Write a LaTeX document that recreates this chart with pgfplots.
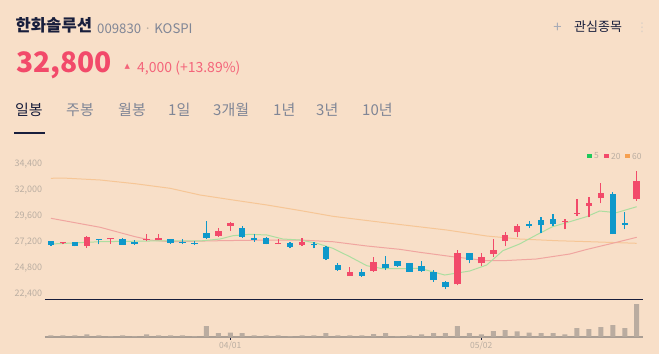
\documentclass[border=0pt]{standalone}
\usepackage{pgfplots}
\pgfplotsset{compat=1.18}
\usepackage{pgfplotstable}
\usepackage{fontspec}
\setmainfont{Noto Sans CJK KR}
\newfontfamily\dejavu{DejaVu Sans}
\definecolor{bg}{RGB}{248,223,200}
\definecolor{upc}{RGB}{242,74,106}
\definecolor{uptxt}{RGB}{244,100,122}
\definecolor{dnc}{RGB}{14,152,202}
\definecolor{navy}{RGB}{24,30,60}
\definecolor{txtgray}{RGB}{128,134,150}
\definecolor{lblgray}{RGB}{186,174,162}
\definecolor{ma5}{RGB}{172,222,160}
\definecolor{ma20}{RGB}{240,165,160}
\definecolor{ma60}{RGB}{246,198,150}
\definecolor{volc}{RGB}{186,172,160}
\definecolor{basegray}{RGB}{170,158,148}
\definecolor{lg5}{RGB}{30,200,90}
\definecolor{lg60}{RGB}{246,160,80}

\pgfplotstableread{
i o h l c
1 27100 27230 27020 27150
3 26860 27810 26700 27720
5 27480 27580 27070 27570
8 27410 27990 27290 27500
9 27440 27990 27440 27595
14 27810 28490 27720 28240
15 28730 29040 28270 28970
19 27030 27500 27020 27070
21 26950 27570 26890 27255
25 24100 24950 24100 24440
27 24540 25880 24470 25420
34 23340 26500 23250 26220
36 25270 26190 25050 25850
37 26120 27530 25880 26460
38 27350 28170 26830 27900
39 28150 28880 27660 28700
43 29100 29340 28400 29190
44 29830 31210 29650 29920
45 30540 31390 29500 30840
46 31270 32630 30790 31760
49 31150 33780 31030 32800
}\upt

\pgfplotstableread{
i o h l c
0 27320 27350 26900 26950
2 27230 27250 26820 26860
4 27480 27500 27020 27380
6 27530 27600 26980 26980
7 27255 27410 26980 27070
10 27500 27500 27070 27160
11 27230 27530 27040 27140
12 27160 27320 26950 27070
13 28080 29160 27500 27595
16 28510 28700 27620 27710
17 27620 27960 27255 27410
18 27595 27650 27020 27070
20 27160 27250 26650 26800
22 27020 27255 26650 26920
23 26770 26860 25570 25660
24 25140 25270 24590 24650
26 24480 24700 24050 24120
28 25210 25950 24650 24810
29 25480 25480 24950 25030
30 25300 25300 24500 24500
31 25050 25480 24470 24560
32 24440 24630 23550 23730
33 23550 23670 22890 23060
35 26220 26250 25270 25540
40 28850 29190 28510 28700
41 29220 29500 28080 28760
42 29310 29770 28700 28910
47 31670 31800 27960 27960
48 29000 29990 28400 28800
}\dnt

\pgfplotstableread{
x p
0 33085
1 33110
4.12 32929
7.04 32588
9.97 32165
12.47 31549
15.23 31090
18.07 30630
20.83 30124
23.58 29591
26.42 29204
29.17 28837
33.1 28331
36.45 27779
39.2 27503
42.3 27347
45.05 27255
49 27108
}\masixty

\pgfplotstableread{
x p
0 29407
4.12 28579
7.04 27715
8.29 27411
9.97 27255
14.14 27347
18.07 27411
20.83 27411
23.58 27255
26.42 26860
29.17 26556
30.85 26281
33.6 25876
36.45 25508
37.8 25508
40.6 25664
43.4 26124
44.8 26538
46.9 27090
49 27660
}\matwenty

\pgfplotstableread{
x p
0 27044
4.12 27255
8.29 27320
12.47 27320
14.14 27503
15.23 27807
16.65 27936
18.07 27871
19.4 27503
20.83 27411
22.25 27108
23.58 26648
25 25876
26.42 25048
27.76 24773
29.17 24773
30.85 24809
32.94 24193
35.03 24561
36.45 25113
37.8 26428
39.2 27044
40.6 27871
41.96 28634
43.4 29094
44.8 29554
45.9 30078
47.3 29922
49 30473
}\mafive

\pgfplotstableread{
i v
0 4
1 4
2 4
3 7
4 4
5 2
6 4
7 2
8 7
9 4
10 4
11 4
12 2
13 32
14 11
15 12
16 11
17 4
18 4
19 4
20 2
21 4
22 4
23 11
24 4
25 4
26 4
27 8
28 11
29 2
30 4
31 7
32 11
33 11
34 32
35 11
36 7
37 17
38 20
39 16
40 12
41 11
42 11
43 7
44 26
45 23
46 29
47 35
48 26
49 98
}\vol

\begin{document}
\begin{tikzpicture}
\useasboundingbox (0pt,0pt) rectangle (659pt,354pt);
\fill[bg] (0pt,0pt) rectangle (659pt,354pt);

% header
\node[anchor=base west, inner sep=0pt, text=navy, font=\fontsize{16.6}{19}\selectfont\bfseries] at (15.5pt,322pt) {한화솔루션};
\node[anchor=base west, inner sep=0pt, text=txtgray, font=\fontsize{13.2}{16}\selectfont] at (97pt,320pt) {009830 {\color{lblgray}·} KOSPI};
\node[anchor=base west, inner sep=0pt, text=upc, font=\fontsize{28.2}{32}\selectfont\bfseries] at (16pt,281.3pt) {32,800};
\node[anchor=base west, inner sep=0pt, text=uptxt, font=\dejavu\fontsize{7}{8}\selectfont] at (124.5pt,285.7pt) {▲};
\node[anchor=base west, inner sep=0pt, text=uptxt, font=\fontsize{14}{16}\selectfont] at (137pt,281.7pt) {4,000 (+13.89\%)};

% tabs
\node[anchor=base west, inner sep=0pt, text=navy, font=\fontsize{15}{18}\selectfont] at (15pt,238.5pt) {일봉};
\foreach \xx/\tt in {66/주봉,118/월봉,168/1일,213/3개월,273/1년,316/3년,362/10년}
  \node[anchor=base west, inner sep=0pt, text=txtgray, font=\fontsize{15}{18}\selectfont] at (\xx pt,238.5pt) {\tt};
\draw[navy, line width=1.6pt] (14pt,221pt) -- (45pt,221pt);

% top right
\node[anchor=center, inner sep=0pt, text=txtgray!70, font=\fontsize{15}{18}\selectfont] at (557.5pt,326pt) {+};
\node[anchor=base west, inner sep=0pt, text=navy, font=\fontsize{13}{15}\selectfont] at (574pt,322pt) {관심종목};
\node[anchor=center, inner sep=0pt, text=lblgray!60, font=\dejavu\fontsize{12}{14}\selectfont] at (642pt,326pt) {⋮};

% legend
\fill[lg5] (587pt,195.7pt) rectangle (592pt,200.3pt);
\node[anchor=west, inner sep=0pt, text=lblgray, font=\fontsize{8.5}{10}\selectfont] at (594pt,198pt) {5};
\fill[upc] (604pt,195.7pt) rectangle (609pt,200.3pt);
\node[anchor=west, inner sep=0pt, text=lblgray, font=\fontsize{8.5}{10}\selectfont] at (611pt,198pt) {20};
\fill[lg60] (625pt,195.7pt) rectangle (630pt,200.3pt);
\node[anchor=west, inner sep=0pt, text=lblgray, font=\fontsize{8.5}{10}\selectfont] at (632pt,198pt) {60};

% price axis
\begin{axis}[
  at={(45pt,54.7pt)}, anchor=south west,
  scale only axis, width=597.7pt, height=149.3pt,
  xmin=-0.5, xmax=49.5, ymin=21959, ymax=35687,
  axis lines*=left,
  x axis line style={draw=navy, line width=1.2pt, -},
  y axis line style={draw=none},
  xtick=\empty,
  scaled y ticks=false,
  ytick={22400,24800,27200,29600,32000,34400},
  yticklabels={{22,400},{24,800},{27,200},{29,600},{32,000},{34,400}},
  ytick style={draw=none},
  yticklabel style={font=\fontsize{9}{10}\selectfont, text=lblgray, inner sep=0pt, xshift=-2.7pt},
  clip=true,
]
\addplot[ma60, line width=1pt, mark=none] table[x=x,y=p]{\masixty};
\addplot[ma20, line width=1pt, mark=none] table[x=x,y=p]{\matwenty};
\addplot[ma5, line width=1pt, mark=none] table[x=x,y=p]{\mafive};
% wicks
\addplot[draw=none, mark=none, error bars/.cd, y dir=plus, y explicit, error mark=none,
  error bar style={draw=upc, line width=1.2pt, solid}]
  table[x=i, y=l, y error plus expr=\thisrow{h}-\thisrow{l}]{\upt};
\addplot[draw=none, mark=none, error bars/.cd, y dir=plus, y explicit, error mark=none,
  error bar style={draw=dnc, line width=1.2pt, solid}]
  table[x=i, y=l, y error plus expr=\thisrow{h}-\thisrow{l}]{\dnt};
% bodies
\addplot[draw=none, mark=none, error bars/.cd, y dir=plus, y explicit, error mark=none,
  error bar style={draw=upc, line width=6.5pt, solid}]
  table[x=i, y=o, y error plus expr={max(\thisrow{c}-\thisrow{o},100)}]{\upt};
\addplot[draw=none, mark=none, error bars/.cd, y dir=plus, y explicit, error mark=none,
  error bar style={draw=dnc, line width=6.5pt, solid}]
  table[x=i, y=c, y error plus expr={max(\thisrow{o}-\thisrow{c},100)}]{\dnt};
\end{axis}

% volume axis
\begin{axis}[
  at={(45pt,17.3pt)}, anchor=south west,
  scale only axis, width=597.7pt, height=36.7pt,
  xmin=-0.5, xmax=49.5, ymin=0, ymax=110,
  axis x line=bottom, axis y line=none,
  x axis line style={draw=basegray, line width=1.6pt, -},
  xtick={15,36}, xticklabels={04/01,05/02},
  tick align=outside, major tick length=3pt,
  xtick style={draw=navy, line width=0.8pt},
  xticklabel style={font=\fontsize{8.5}{10}\selectfont, text=lblgray, inner sep=0pt, yshift=-1.5pt},
  ytick=\empty,
]
\addplot[ybar, bar width=5pt, fill=volc, draw=none] table[x=i,y=v]{\vol};
\end{axis}
\end{tikzpicture}
\end{document}
